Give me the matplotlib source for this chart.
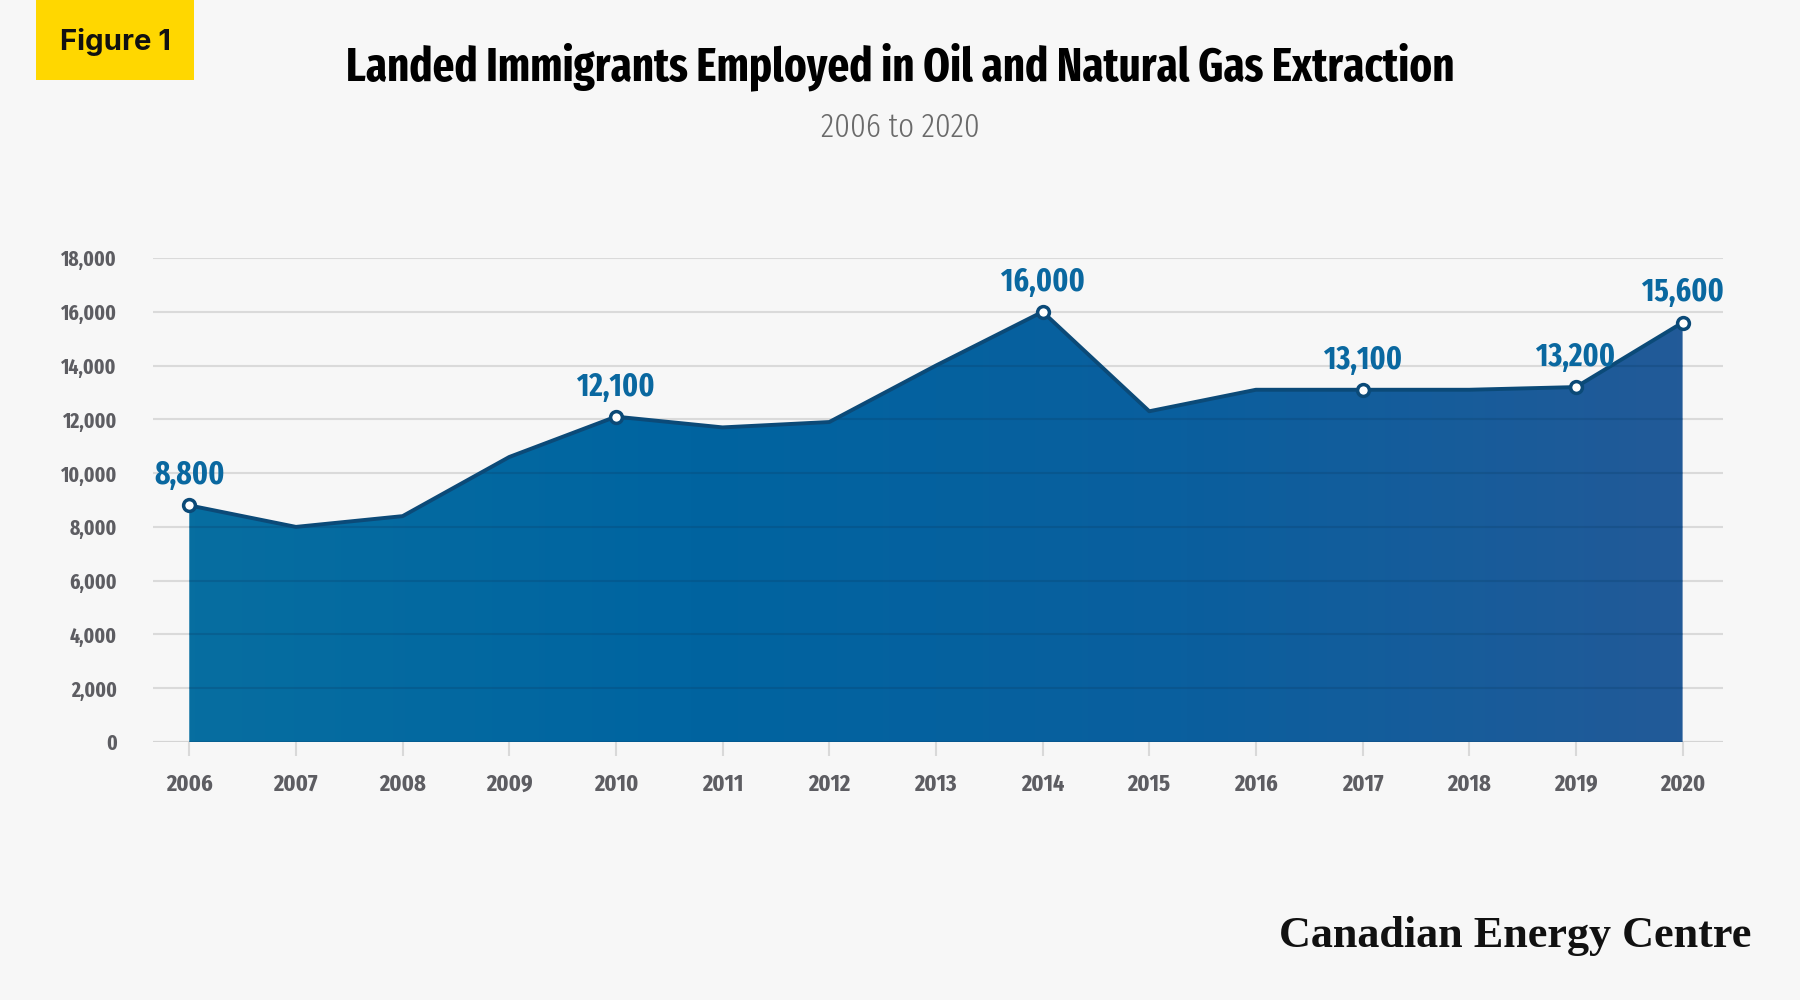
import os
import numpy as np
import matplotlib.pyplot as plt
from matplotlib.colors import LinearSegmentedColormap
from matplotlib.patches import Rectangle
from matplotlib import font_manager
from matplotlib.font_manager import FontProperties

# ---------------------------
# Data
# ---------------------------
years = [2006, 2007, 2008, 2009, 2010, 2011, 2012, 2013, 2014, 2015, 2016, 2017, 2018, 2019, 2020]
workers = [8800, 8000, 8400, 10600, 12100, 11700, 11900, 14000, 16000, 12300, 13100, 13100, 13100, 13200, 15600]
labelled_years = [2006, 2010, 2014, 2017, 2019, 2020]
yticks = [0, 2000, 4000, 6000, 8000, 10000, 12000, 14000, 16000, 18000]

title = "Landed Immigrants Employed in Oil and Natural Gas Extraction"
subtitle = "2006 to 2020"
badge = "Figure 1"
brand = "Canadian Energy Centre"


# ---------------------------
# Fonts: prefer an extra-condensed face, then condensed, else DejaVu Sans
# ---------------------------
def weight_num(f):
    w = f.weight
    if isinstance(w, str):
        return font_manager.weight_dict.get(w.lower(), 400)
    return w


def key_of(f):
    return (f.name + os.path.basename(f.fname) + str(f.stretch)).lower().replace('-', '').replace(' ', '')


def narrow_rank(f):
    k = key_of(f)
    if 'ultracondensed' in k:
        return 1
    if 'extracondensed' in k:
        return 0
    if 'semicondensed' in k:
        return 3
    if 'condensed' in k or 'narrow' in k:
        return 2
    return 9


cands = [f for f in font_manager.fontManager.ttflist
         if narrow_rank(f) < 9 and f.style == 'normal'
         and 'italic' not in os.path.basename(f.fname).lower()]
bold_c = sorted([f for f in cands if weight_num(f) >= 600],
                key=lambda f: (narrow_rank(f), abs(weight_num(f) - 700)))
light_c = sorted([f for f in cands if weight_num(f) < 600],
                 key=lambda f: (narrow_rank(f), abs(weight_num(f) - 300)))

if bold_c:
    bold_fp = FontProperties(fname=bold_c[0].fname)
else:
    bold_fp = FontProperties(family='DejaVu Sans', weight='bold')
if light_c:
    light_fp = FontProperties(fname=light_c[0].fname)
else:
    light_fp = FontProperties(family='DejaVu Sans')
badge_fp = FontProperties(family=['Inter', 'Roboto', 'DejaVu Sans'], weight='bold')
serif_fp = FontProperties(family=['Liberation Serif', 'DejaVu Serif'], weight='bold')

bg = '#f7f7f7'
line_col = '#0b4a78'
label_col = '#0a68a0'
tick_col = '#5d5d62'

fig = plt.figure(figsize=(18, 10), dpi=100, facecolor=bg)
renderer = fig.canvas.get_renderer()


def fit(txt, fp, width_px, max_size):
    # font size that makes the text about width_px wide
    t = fig.text(0, 0, txt, fontproperties=fp, fontsize=40)
    w = t.get_window_extent(renderer).width
    t.remove()
    return min(max_size, 40 * width_px / w)


ax = fig.add_axes([0.085, 0.258, 0.872, 0.484])
ax.set_facecolor(bg)

x = np.array(years, dtype=float)
y = np.array(workers, dtype=float)

# gradient fill clipped to the area under the line
cmap = LinearSegmentedColormap.from_list('cec', ['#076ea0', '#0064a0', '#0a5f9e', '#225a98'])
grad = np.linspace(0, 1, 256).reshape(1, -1)
poly = ax.fill_between(x, 0, y, color='none', lw=0)
clip = poly.get_paths()[0]
img = ax.imshow(grad, cmap=cmap, aspect='auto', extent=[x[0], x[-1], 0, 18000],
                origin='lower', zorder=1)
img.set_clip_path(clip, transform=ax.transData)

# grid lines, faintly visible through the fill
for t in yticks:
    ax.axhline(t, color='#dadada', lw=1.5, zorder=0)
    gl = ax.axhline(t, color='#0a3d66', lw=1.5, alpha=0.25, zorder=2)
    gl.set_clip_path(clip, transform=ax.transData)

ax.plot(x, y, color=line_col, lw=2.8, zorder=3)

val_size = fit("16,000", bold_fp, 84, 36)
for yr, v in zip(years, workers):
    if yr in labelled_years:
        ax.plot(yr, v, 'o', ms=8.5, mfc='white', mec=line_col, mew=2.5, zorder=4)
        ax.annotate(f"{v:,}", (yr, v), xytext=(0, 10), textcoords='offset points',
                    ha='center', va='bottom', color=label_col, fontproperties=bold_fp,
                    fontsize=val_size, zorder=5)

ax.set_xlim(2005.66, 2020.375)
ax.set_ylim(0, 18000)
ax.set_xticks(years)
ax.set_xticklabels([str(v) for v in years])
ax.set_yticks(yticks)
ax.set_yticklabels([f"{v:,}" for v in yticks])

ysize = fit("18,000", bold_fp, 56, 20)
xsize = fit("2006", bold_fp, 47, 22)
ax.tick_params(axis='y', length=0, pad=26, labelcolor=tick_col)
ax.tick_params(axis='x', length=10, width=1.5, color='#d9d9d9', pad=12, labelcolor=tick_col)
for lab in ax.get_yticklabels():
    lab.set_fontproperties(bold_fp)
    lab.set_fontsize(ysize)
for lab in ax.get_xticklabels():
    lab.set_fontproperties(bold_fp)
    lab.set_fontsize(xsize)
for s in ax.spines.values():
    s.set_visible(False)
ax.axhline(0, color='#d4d4d4', lw=1.5, zorder=0.5)

# header
fig.patches.append(Rectangle((0.02, 0.92), 0.088, 0.08, transform=fig.transFigure,
                             facecolor='#ffd700', edgecolor='none'))
fig.text(0.064, 0.958, badge, ha='center', va='center', fontproperties=badge_fp,
         fontsize=fit(badge, badge_fp, 111, 22), color='#111111')
fig.text(0.5, 0.933, title, ha='center', va='center', fontproperties=bold_fp,
         fontsize=fit(title, bold_fp, 1108, 50), color='black')
fig.text(0.5, 0.872, subtitle, ha='center', va='center', fontproperties=light_fp,
         fontsize=fit(subtitle, light_fp, 159, 30), color='#6a6a6a')

fig.text(0.973, 0.064, brand, ha='right', va='center', fontproperties=serif_fp,
         fontsize=fit(brand, serif_fp, 473, 34), color='#111111')

fig.savefig('out.png', dpi=100, facecolor=bg)
